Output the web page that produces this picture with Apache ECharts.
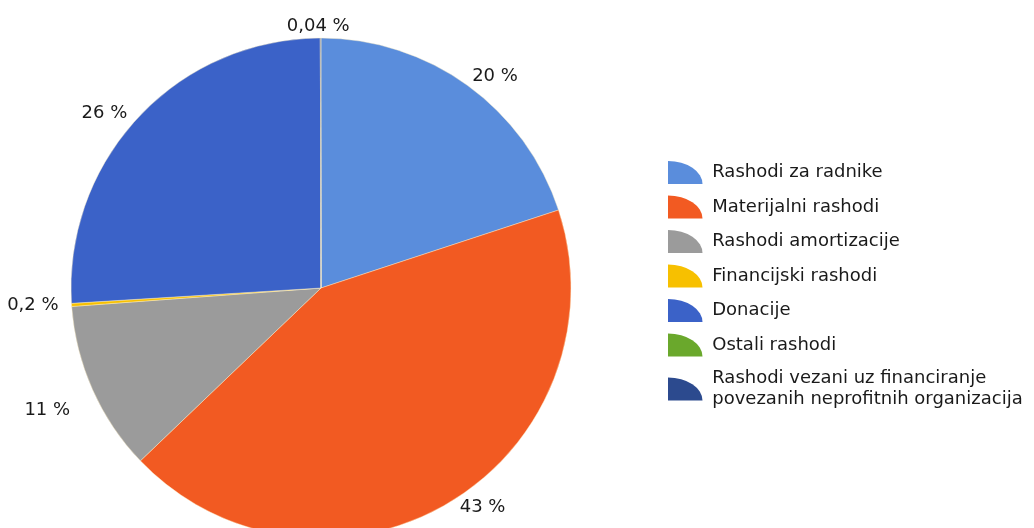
<!DOCTYPE html>
<html>
<head>
<meta charset="utf-8">
<script src="https://cdn.jsdelivr.net/npm/echarts@6/dist/echarts.min.js"></script>
<style>
    html, body { margin: 0; padding: 0; background: #fff; }
    #chart { width: 1034px; height: 528px; }
</style>
</head>
<body>
<div id="chart"></div>
<script>
    // kategorije rashoda i udjeli (%)
    var categories = [
        'Rashodi za radnike',
        'Materijalni rashodi',
        'Rashodi amortizacije',
        'Financijski rashodi',
        'Donacije',
        'Ostali rashodi',
        'Rashodi vezani uz financiranje\npovezanih neprofitnih organizacija'
    ];
    var shares = [20, 43, 11, 0.2, 26, 0, 0.04];
    var colors = ['#5a8ddc', '#f25a22', '#9b9b9b', '#f7c000', '#3b62c8', '#6aa82c', '#2c4a8e'];

    var wedge = 'path://M0,24 L0,0 A36,24 0 0 1 36,24 Z';

    var chart = echarts.init(document.getElementById('chart'));
    chart.setOption({
        backgroundColor: '#ffffff',
        color: colors,
        legend: {
            orient: 'vertical',
            left: 668,
            top: 161,
            padding: 0,
            itemWidth: 38,
            itemHeight: 23,
            itemGap: 11.5,
            icon: wedge,
            itemStyle: { borderWidth: 0 },
            data: categories,
            textStyle: {
                fontFamily: 'DejaVu Sans',
                fontSize: 18,
                color: '#1a1a1a',
                lineHeight: 21,
                padding: [0, 0, 0, 3]
            }
        },
        series: [
            {
                type: 'pie',
                center: [321, 288],
                radius: 250,
                startAngle: 90,
                clockwise: true,
                avoidLabelOverlap: false,
                stillShowZeroSum: true,
                animation: false,
                itemStyle: {
                    borderColor: 'rgba(255,240,200,0.7)',
                    borderWidth: 0.6
                },
                label: {
                    show: true,
                    position: 'outside',
                    fontFamily: 'DejaVu Sans',
                    fontSize: 18,
                    color: '#1a1a1a',
                    formatter: function (p) {
                        if (p.value === 0) return '';
                        return String(p.value).replace('.', ',') + ' %';
                    }
                },
                labelLine: { show: false, length: 6, length2: 2 },
                // malo pomicanje oznaka kao na izvornom grafu
                labelLayout: function (p) {
                    if (p.dataIndex === 6) return { dx: 36, dy: -6 };
                    if (p.dataIndex === 2) return { dx: -10, dy: 18 };
                    if (p.dataIndex === 0) return { dx: -6, dy: -4 };
                    return {};
                },
                data: categories.map(function (name, i) {
                    return { name: name, value: shares[i] };
                })
            }
        ]
    });
</script>
</body>
</html>
